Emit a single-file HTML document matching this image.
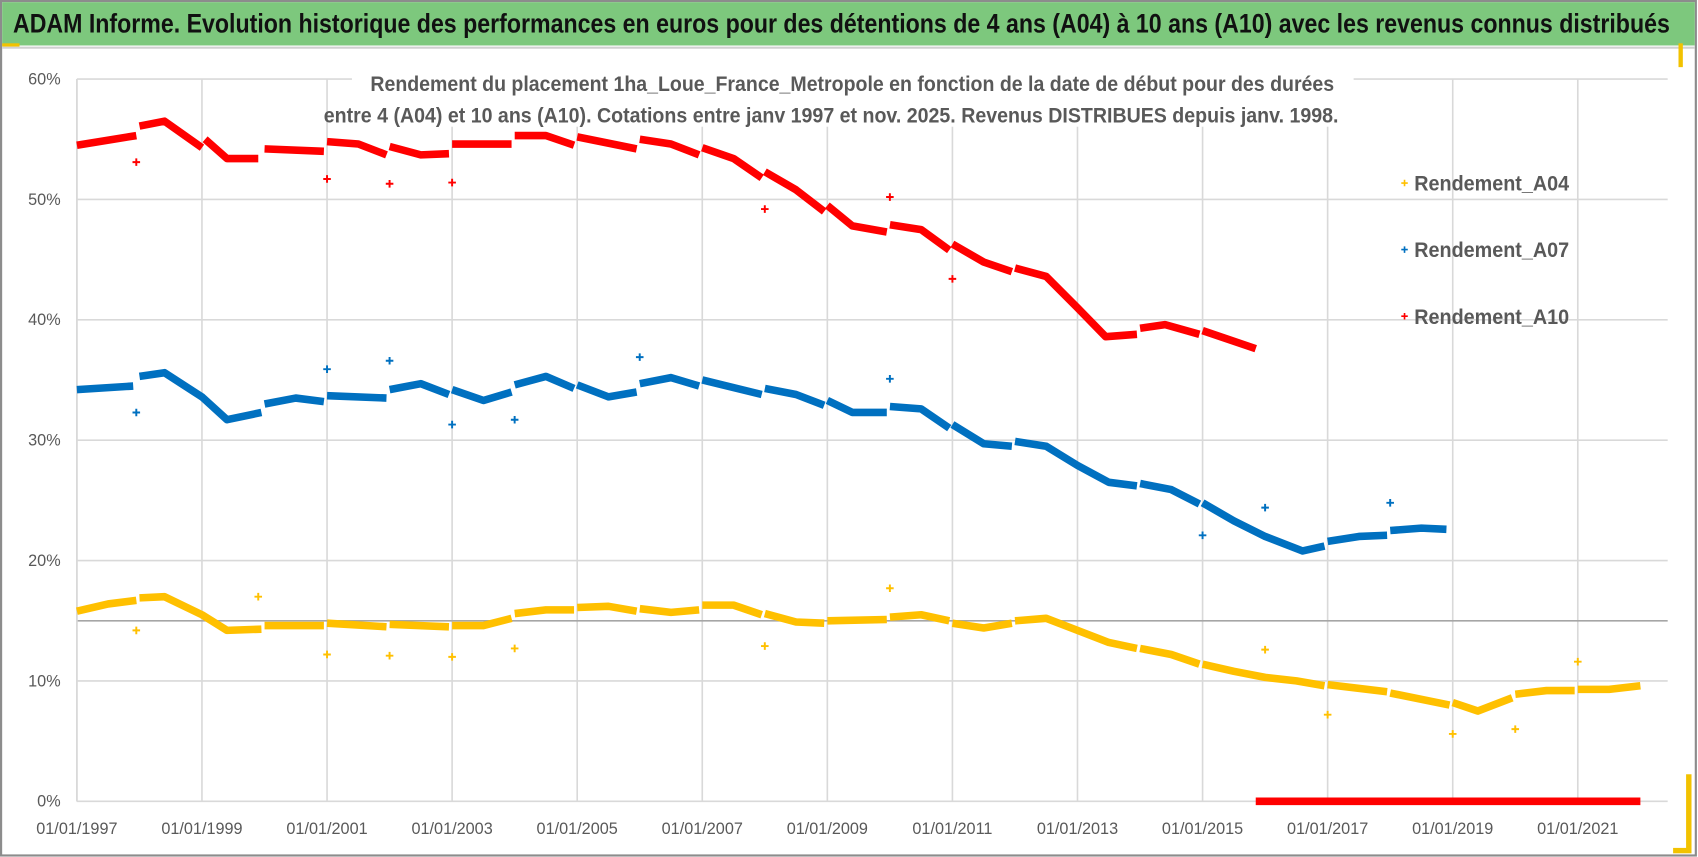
<!DOCTYPE html>
<html><head><meta charset="utf-8"><style>
html,body{margin:0;padding:0;background:#fff;}
svg{display:block;font-family:"Liberation Sans Narrow","Liberation Sans",sans-serif;}
</style></head><body>
<svg id="chart" width="1698" height="857" viewBox="0 0 1568 791.4" preserveAspectRatio="none">
<rect x="0" y="0" width="1568" height="792" fill="#fff"/>
<rect x="1" y="1" width="1565" height="789" fill="none" stroke="#8c8c8c" stroke-width="2"/>
<rect x="2" y="2" width="1563" height="40" fill="#7dc87d"/>
<line x1="2" y1="44" x2="1565" y2="44" stroke="#d0d0d0" stroke-width="2"/>
<rect x="2" y="40" width="16" height="3" fill="#f2c200"/>
<rect x="1550" y="40" width="4" height="22" fill="#f2c200"/>
<rect x="1557" y="715" width="5" height="72" fill="#f2c200"/>
<rect x="1545" y="783" width="17" height="5" fill="#f2c200"/>
<text x="12" y="30" font-size="25" font-weight="bold" fill="#111" textLength="1530" lengthAdjust="spacingAndGlyphs">ADAM Informe. Evolution historique des performances en euros pour des détentions de 4 ans (A04) à 10 ans (A10) avec les revenus connus distribués</text>
<g id="grid"></g>
<rect x="325" y="60" width="925" height="57" fill="#fff"/>
<g id="series"></g>
<text x="342" y="84" font-size="20" font-weight="bold" fill="#595959" textLength="890" lengthAdjust="spacingAndGlyphs">Rendement du placement 1ha_Loue_France_Metropole en fonction de la date de début pour des durées</text>
<text x="299" y="113" font-size="20" font-weight="bold" fill="#595959" textLength="937" lengthAdjust="spacingAndGlyphs">entre 4 (A04) et 10 ans (A10). Cotations entre janv 1997 et nov. 2025. Revenus DISTRIBUES depuis janv. 1998.</text>
<g id="legend"></g>
</svg>
<script>
const yTicks=[0,10,20,30,40,50,60];
const xTickYears=[1997,1999,2001,2003,2005,2007,2009,2011,2013,2015,2017,2019,2021];
const a10Years=[1997.0,1997.95,null,1998.0,1998.4,1999.0,null,1999.05,1999.4,1999.9,null,2000.0,2000.95,null,2001.0,2001.5,2001.95,null,2002.0,2002.5,2002.95,null,2003.0,2003.95,null,2004.0,2004.5,2004.95,null,2005.0,2005.95,null,2006.0,2006.5,2006.95,null,2007.0,2007.5,2007.95,null,2008.0,2008.5,2008.95,null,2009.0,2009.4,2009.95,null,2010.0,2010.5,2010.95,null,2011.0,2011.5,2011.95,null,2012.0,2012.5,2013.0,2013.45,2013.95,null,2014.0,2014.4,2014.95,null,2015.0,2015.85];
const a10Values=[54.5,55.3,null,56.1,56.5,54.3,null,55.0,53.4,53.4,null,54.2,54.0,null,54.8,54.6,53.7,null,54.4,53.7,53.8,null,54.6,54.6,null,55.3,55.3,54.5,null,55.2,54.2,null,55.0,54.6,53.7,null,54.3,53.4,51.8,null,52.3,50.8,49.0,null,49.5,47.8,47.3,null,47.9,47.5,45.8,null,46.3,44.8,44.0,null,44.3,43.6,41.0,38.6,38.8,null,39.3,39.6,38.8,null,39.1,37.6];
const a10ZeroYears=[2015.85,2022.0];
const a10ZeroValues=[0,0];
const a10OutYears=[1997.95,2001.0,2002.0,2003.0,2008.0,2010.0,2011.0];
const a10OutValues=[53.1,51.7,51.3,51.4,49.2,50.2,43.4];
const a07Years=[1997.0,1997.9,null,1998.0,1998.4,1999.0,1999.4,1999.95,null,2000.0,2000.5,2000.95,null,2001.0,2001.95,null,2002.0,2002.5,2002.95,null,2003.0,2003.5,2003.95,null,2004.0,2004.5,2004.95,null,2005.0,2005.5,2005.95,null,2006.0,2006.5,2006.95,null,2007.0,2007.95,null,2008.0,2008.5,2008.95,null,2009.0,2009.4,2009.95,null,2010.0,2010.5,2010.95,null,2011.0,2011.5,2011.95,null,2012.0,2012.5,2013.0,2013.5,2013.95,null,2014.0,2014.5,2014.95,null,2015.0,2015.5,2016.0,2016.6,2016.95,null,2017.0,2017.5,2017.95,null,2018.0,2018.5,2018.9];
const a07Values=[34.2,34.5,null,35.3,35.6,33.6,31.7,32.3,null,33.0,33.5,33.2,null,33.7,33.5,null,34.2,34.7,33.8,null,34.2,33.3,34.0,null,34.6,35.3,34.3,null,34.6,33.6,34.0,null,34.7,35.2,34.5,null,35.0,33.8,null,34.3,33.8,32.9,null,33.3,32.3,32.3,null,32.8,32.6,31.0,null,31.3,29.7,29.5,null,29.9,29.5,27.9,26.5,26.2,null,26.4,25.9,24.7,null,24.8,23.3,22.0,20.8,21.2,null,21.6,22.0,22.1,null,22.5,22.7,22.6];
const a07OutYears=[1997.95,2001.0,2002.0,2003.0,2004.0,2006.0,2010.0,2015.0,2016.0,2018.0];
const a07OutValues=[32.3,35.9,36.6,31.3,31.7,36.9,35.1,22.1,24.4,24.8];
const a04Years=[1997.0,1997.5,1997.95,null,1998.0,1998.4,1999.0,1999.4,1999.95,null,2000.0,2000.95,null,2001.0,2001.95,null,2002.0,2002.95,null,2003.0,2003.5,2003.95,null,2004.0,2004.5,2004.95,null,2005.0,2005.5,2005.95,null,2006.0,2006.5,2006.95,null,2007.0,2007.5,2007.95,null,2008.0,2008.5,2008.95,null,2009.0,2009.95,null,2010.0,2010.5,2010.95,null,2011.0,2011.5,2011.95,null,2012.0,2012.5,2013.0,2013.5,2013.95,null,2014.0,2014.5,2014.95,null,2015.0,2015.5,2016.0,2016.5,2016.95,null,2017.0,2017.95,null,2018.0,2018.95,null,2019.0,2019.4,2019.95,null,2020.0,2020.5,2020.95,null,2021.0,2021.5,2022.0];
const a04Values=[15.8,16.4,16.7,null,16.9,17.0,15.5,14.2,14.3,null,14.6,14.6,null,14.8,14.5,null,14.7,14.5,null,14.6,14.6,15.2,null,15.6,15.9,15.9,null,16.1,16.2,15.8,null,16.0,15.7,15.9,null,16.3,16.3,15.5,null,15.6,14.9,14.8,null,15.0,15.1,null,15.3,15.5,15.0,null,14.8,14.4,14.8,null,15.0,15.2,14.2,13.2,12.7,null,12.7,12.2,11.4,null,11.4,10.8,10.3,10.0,9.6,null,9.7,9.1,null,9.0,8.0,null,8.2,7.5,8.6,null,8.9,9.2,9.2,null,9.3,9.3,9.6];
const a04OutYears=[1997.95,1999.9,2001.0,2002.0,2003.0,2004.0,2008.0,2010.0,2016.0,2017.0,2019.0,2020.0,2021.0];
const a04OutValues=[14.2,17.0,12.2,12.1,12.0,12.7,12.9,17.7,12.6,7.2,5.6,6.0,11.6];
const legendLabels=["Rendement_A04","Rendement_A07","Rendement_A10"];

const NS="http://www.w3.org/2000/svg";
const X0=71,X1=1540,Y0=740,Y60=73;
function xs(yr){return X0+(yr-1997)*57.75;}
function ys(v){return Y0-(v/60)*(Y0-Y60);}
function mk(tag,attrs,parent){const e=document.createElementNS(NS,tag);for(const k in attrs)e.setAttribute(k,attrs[k]);parent.appendChild(e);return e;}
const grid=document.getElementById('grid'),ser=document.getElementById('series'),leg=document.getElementById('legend');

yTicks.forEach(t=>{
  const l=mk('line',{x1:X0,x2:X1,y1:ys(t),y2:ys(t),stroke:'#d9d9d9','stroke-width':1.5},grid);
  
  
  const tx=mk('text',{x:56,y:ys(t)+5,'text-anchor':'end','font-size':15,fill:'#595959'},grid);
  tx.textContent=t+'%';
  
  
});
xTickYears.forEach(yr=>{
  const l=mk('line',{x1:xs(yr),x2:xs(yr),y1:Y60,y2:Y0,stroke:'#d9d9d9','stroke-width':1.5},grid);
  
  
  const tx=mk('text',{x:xs(yr),y:770,'text-anchor':'middle','font-size':15,fill:'#595959'},grid);
  tx.textContent='01/01/'+yr;
  
  
});
const refl=mk('line',{x1:X0,x2:X1,y1:ys(15),y2:ys(15),stroke:'#a6a6a6','stroke-width':1.5},grid);


const axl=mk('line',{x1:X0,x2:X0,y1:Y60,y2:Y0,stroke:'#d9d9d9','stroke-width':1.5},grid);



function drawLine(years,vals,color,name){
  let d='',start=true;
  for(let i=0;i<years.length;i++){
    if(years[i]===null){start=true;continue;}
    d+=(start?'M':'L')+xs(years[i]).toFixed(1)+','+ys(vals[i]).toFixed(1);start=false;
  }
  const p=mk('path',{d:d,fill:'none',stroke:color,'stroke-width':7,'stroke-linejoin':'round','stroke-linecap':'butt'},ser);
  
  
}
function drawPlus(years,vals,color,name){
  for(let i=0;i<years.length;i++){
    const x=xs(years[i]),y=ys(vals[i]);
    const p=mk('path',{d:`M${x-3.5},${y}H${x+3.5}M${x},${y-3.5}V${y+3.5}`,stroke:color,'stroke-width':1.8},ser);
    
    
  }
}
drawLine(a04Years,a04Values,'#ffc000','series-a04');
drawPlus(a04OutYears,a04OutValues,'#ffc000','outlier-a04');
drawLine(a07Years,a07Values,'#0070c0','series-a07');
drawPlus(a07OutYears,a07OutValues,'#0070c0','outlier-a07');
drawLine(a10Years,a10Values,'#ff0000','series-a10');
drawLine(a10ZeroYears,a10ZeroValues,'#ff0000','series-a10-zero');
drawPlus(a10OutYears,a10OutValues,'#ff0000','outlier-a10');

const legColors=['#ffc000','#0070c0','#ff0000'];
legendLabels.forEach((lab,i)=>{
  const y=170+i*61.5;
  const g=mk('g',{},leg);
  
  
  mk('path',{d:`M1294,${y-1}H1300M1297,${y-4}V${y+2}`,stroke:legColors[i],'stroke-width':1.5},g);
  const t=mk('text',{x:1306,y:y+6,'font-size':20,'font-weight':'bold',fill:'#595959',textLength:143,lengthAdjust:'spacingAndGlyphs'},g);
  t.textContent=lab;
});
</script>
</body></html>
